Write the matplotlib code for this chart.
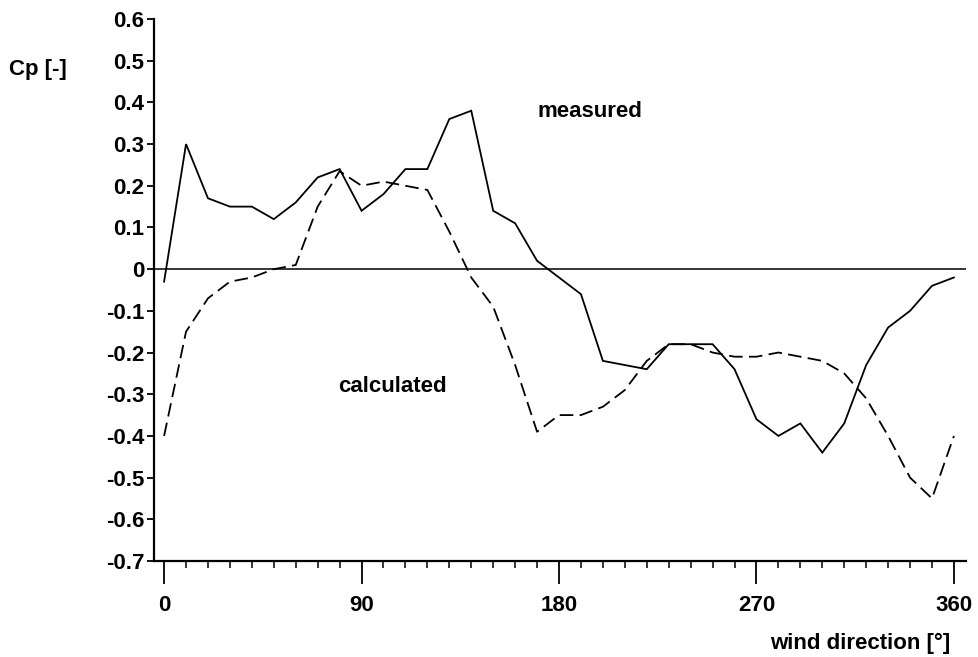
import matplotlib
matplotlib.use("Agg")
import matplotlib.pyplot as plt
from matplotlib.ticker import MultipleLocator, FixedLocator

plt.rcParams['font.family'] = ['Liberation Sans', 'DejaVu Sans']

wind_direction = list(range(0, 361, 10))
measured = [-0.03, 0.30, 0.17, 0.15, 0.15, 0.12, 0.16, 0.22, 0.24, 0.14,
            0.18, 0.24, 0.24, 0.36, 0.38, 0.14, 0.11, 0.02, -0.02, -0.06,
            -0.22, -0.23, -0.24, -0.18, -0.18, -0.18, -0.24, -0.36, -0.40, -0.37,
            -0.44, -0.37, -0.23, -0.14, -0.10, -0.04, -0.02]
calculated = [-0.40, -0.15, -0.07, -0.03, -0.02, 0.00, 0.01, 0.15, 0.235, 0.20,
              0.21, 0.20, 0.19, 0.09, -0.02, -0.09, -0.23, -0.39, -0.35, -0.35,
              -0.33, -0.29, -0.22, -0.18, -0.18, -0.20, -0.21, -0.21, -0.20, -0.21,
              -0.22, -0.25, -0.31, -0.40, -0.50, -0.55, -0.40]
x_major_ticks = [0, 90, 180, 270, 360]
y_ticks = [0.6, 0.5, 0.4, 0.3, 0.2, 0.1, 0, -0.1, -0.2, -0.3, -0.4, -0.5, -0.6, -0.7]
y_tick_labels = ['0.6', '0.5', '0.4', '0.3', '0.2', '0.1', '0', '-0.1', '-0.2',
                 '-0.3', '-0.4', '-0.5', '-0.6', '-0.7']

W, H = 979, 657
fig = plt.figure(figsize=(W / 100, H / 100), dpi=100)
left, right, top, bottom = 154, 966, 19, 561
ax = fig.add_axes([left / W, 1 - bottom / H, (right - left) / W, (bottom - top) / H])

ax.plot(wind_direction, measured, color='black', lw=1.3, solid_joinstyle='miter')
ax.plot(wind_direction, calculated, color='black', lw=1.3, dashes=(7.5, 3.5))
ax.axhline(0, color='black', lw=1.1)

ax.set_xlim(-4.6, 365.5)
ax.set_ylim(-0.7, 0.6)

for s in ['top', 'right']:
    ax.spines[s].set_visible(False)
for s in ['left', 'bottom']:
    ax.spines[s].set_linewidth(1.6)

ax.xaxis.set_major_locator(FixedLocator(x_major_ticks))
ax.xaxis.set_minor_locator(MultipleLocator(10))
ax.set_yticks(y_ticks)
ax.set_yticklabels(y_tick_labels)

fs = 16
tf = dict(fontsize=fs, fontweight='bold')
ax.tick_params(axis='x', which='major', direction='out', length=16.5, width=1.3,
               pad=8, labelsize=fs)
ax.tick_params(axis='x', which='minor', direction='out', length=5, width=1.1)
ax.tick_params(axis='y', which='major', direction='out', length=5, width=1.3,
               pad=2, labelsize=fs)
for lab in ax.get_xticklabels() + ax.get_yticklabels():
    lab.set_fontweight('bold')

ax.text(194, 0.379, 'measured', ha='center', va='center', **tf)
ax.text(104, -0.281, 'calculated', ha='center', va='center', **tf)

fig.text(38 / W, 1 - 70 / H, 'Cp [-]', ha='center', va='center', **tf)
fig.text(860 / W, 1 - 643 / H, 'wind direction [°]', ha='center', va='center', **tf)

fig.savefig('out.png', dpi=100)
